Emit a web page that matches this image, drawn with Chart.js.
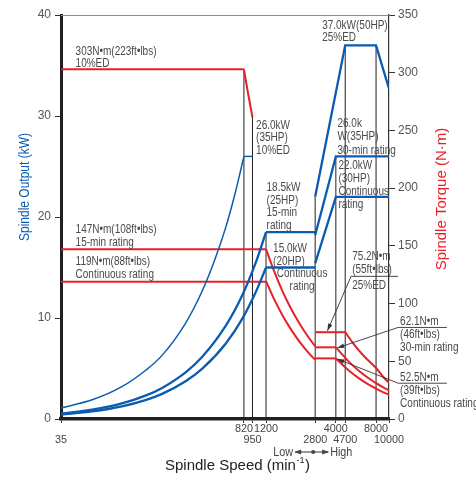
<!DOCTYPE html>
<html>
<head>
<meta charset="utf-8">
<script src="https://cdn.jsdelivr.net/npm/chart.js@4.4.1/dist/chart.umd.min.js"></script>
<style>
  html, body { margin: 0; padding: 0; background: #fff; }
  canvas { display: block; }
</style>
</head>
<body>
<canvas id="grafico" width="476" height="480"></canvas>
<script>
// ===== Dados =====
// eixo X: rotação (min-1), escala logarítmica
const xTicks = [35, 820, 950, 1200, 2800, 4000, 4700, 8000, 10000];
const xTicksUpper = [820, 1200, 4000, 8000];

// marcha baixa - potência (kW)
const speedRise10 = [35, 60, 100, 150, 200, 300, 400, 500, 600, 700, 820];
const kwRise10 = [1.1, 1.9, 3.2, 4.8, 6.3, 9.5, 12.7, 15.9, 19.0, 22.2, 26.0];
const speedRise = [35, 60, 100, 150, 200, 300, 400, 600, 800, 1000, 1200];
const kwRise15 = [0.54, 0.92, 1.54, 2.31, 3.08, 4.62, 6.16, 9.24, 12.3, 15.4, 18.5];
const kwRiseCont = [0.44, 0.75, 1.25, 1.87, 2.49, 3.74, 4.98, 7.48, 9.97, 12.5, 15.0];
const speedFlat10 = [820, 950];
const kwFlat10 = [26.0, 26.0];
const speedFlatLow = [1200, 2800];
const kwFlat15 = [18.5, 18.5];
const kwFlatCont = [15.0, 15.0];

// marcha baixa - torque (N·m)
const speedT303 = [35, 820];
const nmT303 = [303, 303];
const speedDrop10 = [820, 880, 950];
const nmDrop10 = [302.8, 282.2, 261.4];
const speedTLow = [35, 1200];
const nmT147 = [147, 147];
const nmT119 = [119, 119];
const speedFallLow = [1200, 1400, 1600, 1800, 2000, 2200, 2400, 2600, 2800];
const nmFallLow15 = [147.2, 126.2, 110.4, 98.1, 88.3, 80.3, 73.6, 67.9, 63.1];
const nmFallLowCont = [119.4, 102.3, 89.5, 79.6, 71.6, 65.1, 59.7, 55.1, 51.2];

// marcha alta - potência (kW)
const speedHigh25 = [2800, 4700, 8000, 10000];
const kwHigh25 = [22.0, 37.0, 37.0, 32.7];
const speedHigh = [2800, 4000, 10000];
const kwHigh30 = [18.2, 26.0, 26.0];
const kwHighCont = [15.4, 22.0, 22.0];

// marcha alta - torque (N·m)
const speedTFlat25 = [2800, 4700];
const nmTFlat25 = [75.2, 75.2];
const speedTFlat = [2800, 4000];
const nmTFlat30 = [62.1, 62.1];
const nmTFlatCont = [52.5, 52.5];
const speedFall25 = [4700, 5500, 6500, 8000, 9000, 10000];
const nmFallHigh25 = [75.2, 64.2, 54.4, 44.2, 36.8, 31.2];
const speedFallHigh = [4000, 5000, 6000, 7000, 8000, 9000, 10000];
const nmFallHigh30 = [62.1, 49.7, 41.4, 35.5, 31.0, 27.6, 24.8];
const nmFallHighCont = [52.5, 42.0, 35.0, 30.0, 26.3, 23.3, 21.0];

// linhas verticais de referência (altura em kW)
const vLineSpeeds = [820, 950, 1200, 2800, 4000, 4700, 8000];
const vLineTopsKw = [34.6, 29.9, 18.5, 22.0, 26.0, 37.0, 37.0];

// ===== Estilos =====
const AZUL = "#0b5cb0";
const VERMELHO = "#e62129";
const PRETO = "#231f20";
const TEXTO = "#4a4a4a";
const FONT_REG = '"Liberation Sans", Arial, Helvetica, sans-serif';
const CONDENSA = 0.8; // largura do texto "narrow"

// anotações (posição em rotação / kW)
const notas = [
  { n: 45, kw: 36.4, lines: ["303N•m(223ft•lbs)", "10%ED"], lh: 12 },
  { n: 45, kw: 18.75, lines: ["147N•m(108ft•lbs)", "15-min rating"] },
  { n: 45, kw: 15.58, lines: ["119N•m(88ft•lbs)", "Continuous rating"] },
  { n: 1011, kw: 29.07, lines: ["26.0kW", "(35HP)", "10%ED"] },
  { n: 1211, kw: 22.92, lines: ["18.5kW", "(25HP)", "15-min", "rating"] },
  { n: 1355, kw: 16.87, lines: ["15.0kW", "(20HP)"] },
  { n: 2235, kw: 14.38, lines: ["Continuous", "rating"], align: "center" },
  { n: 3157, kw: 38.99, lines: ["37.0kW(50HP)", "25%ED"] },
  { n: 4110, kw: 29.27, lines: ["26.0k", "W(35HP)", "30-min rating"], lh: 13.5 },
  { n: 4180, kw: 25.1, lines: ["22.0kW", "(30HP)", "Continuous", "rating"], lh: 13 },
  { n: 5297, kw: 16.07, lines: ["75.2N•m", "(55ft•lbs)"] },
  { n: 5297, kw: 13.2, lines: ["25%ED"] },
  { n: 12110, kw: 9.62, lines: ["62.1N•m", "(46ft•lbs)", "30-min rating"], lh: 13 },
  { n: 12110, kw: 4.07, lines: ["52.5N•m", "(39ft•lbs)", "Continuous rating"], lh: 13 }
];

// linhas de chamada (rotação / N·m): sublinhado + seta
const chamadas = [
  { under: [5200, 11706, 123.6], tip: [3460, 76.5] },
  { under: [11706, 27120, 79.3], tip: [4100, 61.6] },
  { under: [11706, 27120, 31.0], tip: [4100, 52.0] }
];

// ===== Helpers =====
function serie(xs, ys, color, width, axis, smooth) {
  return {
    data: xs.map((x, i) => ({ x, y: ys[i] })),
    borderColor: color,
    borderWidth: width,
    yAxisID: axis,
    pointRadius: 0,
    fill: false,
    tension: 0,
    cubicInterpolationMode: smooth ? "monotone" : "default",
    order: 0
  };
}

function seta(ctx, x0, y0, x1, y1, len, half) {
  const a = Math.atan2(y1 - y0, x1 - x0);
  ctx.beginPath();
  ctx.moveTo(x1, y1);
  ctx.lineTo(x1 - len * Math.cos(a) + half * Math.sin(a), y1 - len * Math.sin(a) - half * Math.cos(a));
  ctx.lineTo(x1 - len * Math.cos(a) - half * Math.sin(a), y1 - len * Math.sin(a) + half * Math.cos(a));
  ctx.closePath();
  ctx.fill();
}

// texto estreito: Liberation Sans comprimida na horizontal
function textoEstreito(ctx, t, x, y) {
  ctx.save();
  ctx.translate(x, y);
  ctx.scale(CONDENSA, 1);
  ctx.fillText(t, 0, 0);
  ctx.restore();
}

const datasets = [
  serie(speedRise10, kwRise10, AZUL, 1.5, "y", true),
  serie(speedFlat10, kwFlat10, AZUL, 1.5, "y", false),
  serie(speedRise, kwRise15, AZUL, 2.3, "y", true),
  serie(speedRise, kwRiseCont, AZUL, 2.3, "y", true),
  serie(speedFlatLow, kwFlat15, AZUL, 2.3, "y", false),
  serie(speedFlatLow, kwFlatCont, AZUL, 2.3, "y", false),
  serie(speedHigh25, kwHigh25, AZUL, 2.3, "y", false),
  serie(speedHigh, kwHigh30, AZUL, 2.3, "y", false),
  serie(speedHigh, kwHighCont, AZUL, 2.3, "y", false),
  serie(speedT303, nmT303, VERMELHO, 2, "y1", false),
  serie(speedDrop10, nmDrop10, VERMELHO, 2, "y1", false),
  serie(speedTLow, nmT147, VERMELHO, 2, "y1", false),
  serie(speedTLow, nmT119, VERMELHO, 2, "y1", false),
  serie(speedFallLow, nmFallLow15, VERMELHO, 2, "y1", true),
  serie(speedFallLow, nmFallLowCont, VERMELHO, 2, "y1", true),
  serie(speedTFlat25, nmTFlat25, VERMELHO, 2, "y1", false),
  serie(speedTFlat, nmTFlat30, VERMELHO, 2, "y1", false),
  serie(speedTFlat, nmTFlatCont, VERMELHO, 2, "y1", false),
  serie(speedFall25, nmFallHigh25, VERMELHO, 2, "y1", true),
  serie(speedFallHigh, nmFallHigh30, VERMELHO, 2, "y1", true),
  serie(speedFallHigh, nmFallHighCont, VERMELHO, 2, "y1", true)
];
vLineSpeeds.forEach((s, i) => {
  const d = serie([s, s], [0, vLineTopsKw[i]], PRETO, 1, "y", false);
  d.order = 5;
  datasets.push(d);
});

// ===== Plugin de textos e chamadas =====
const extras = {
  id: "extras",
  afterDatasetsDraw(chart) {
    const { ctx, chartArea: ca } = chart;
    const sx = chart.scales.x, sy = chart.scales.y, sy1 = chart.scales.y1;
    ctx.save();

    // borda superior
    ctx.strokeStyle = "#8c8c8c";
    ctx.lineWidth = 1;
    ctx.beginPath();
    ctx.moveTo(ca.left, ca.top + 0.5);
    ctx.lineTo(ca.right, ca.top + 0.5);
    ctx.stroke();

    // textos das curvas
    ctx.fillStyle = TEXTO;
    ctx.font = `12.5px ${FONT_REG}`;
    ctx.textBaseline = "middle";
    notas.forEach((nt) => {
      const x = sx.getPixelForValue(nt.n);
      const y = sy.getPixelForValue(nt.kw);
      ctx.textAlign = nt.align || "left";
      nt.lines.forEach((t, i) => textoEstreito(ctx, t, x, y + i * (nt.lh || 12.6)));
    });

    // chamadas
    ctx.strokeStyle = "#333";
    ctx.fillStyle = "#333";
    ctx.lineWidth = 0.9;
    chamadas.forEach((c) => {
      const x0 = sx.getPixelForValue(c.under[0]);
      const x1 = sx.getPixelForValue(c.under[1]);
      const y0 = sy1.getPixelForValue(c.under[2]);
      const tx = sx.getPixelForValue(c.tip[0]);
      const ty = sy1.getPixelForValue(c.tip[1]);
      ctx.beginPath();
      ctx.moveTo(x1, y0);
      ctx.lineTo(x0, y0);
      ctx.lineTo(tx, ty);
      ctx.stroke();
      seta(ctx, x0, y0, tx, ty, 7, 2.3);
    });
    ctx.restore();
  },
  afterDraw(chart) {
    const { ctx, chartArea: ca } = chart;
    const sx = chart.scales.x;
    ctx.save();
    ctx.textBaseline = "middle";

    // Low <-> High
    const cx = sx.getPixelForValue(2800) - 2;
    const yy = ca.bottom + 33;
    ctx.fillStyle = "#444";
    ctx.strokeStyle = "#333";
    ctx.font = `13.5px ${FONT_REG}`;
    ctx.textAlign = "right";
    textoEstreito(ctx, "Low", cx - 20, yy);
    ctx.textAlign = "left";
    textoEstreito(ctx, "High", cx + 17, yy);
    ctx.lineWidth = 1.2;
    ctx.beginPath();
    ctx.moveTo(cx - 18, yy);
    ctx.lineTo(cx + 15, yy);
    ctx.stroke();
    seta(ctx, cx - 8, yy, cx - 19, yy, 7, 2.6);
    seta(ctx, cx + 6, yy, cx + 16, yy, 7, 2.6);
    ctx.beginPath();
    ctx.arc(cx, yy, 2, 0, Math.PI * 2);
    ctx.fill();

    // título eixo X
    ctx.fillStyle = "#222";
    ctx.font = `15px ${FONT_REG}`;
    ctx.textAlign = "left";
    let x = 165;
    const y = ca.bottom + 47;
    const t1 = "Spindle Speed (min";
    ctx.fillText(t1, x, y);
    x += ctx.measureText(t1).width;
    ctx.font = `9px ${FONT_REG}`;
    ctx.fillText("-1", x + 0.5, y - 5);
    x += ctx.measureText("-1").width + 1;
    ctx.font = `15px ${FONT_REG}`;
    ctx.fillText(")", x, y);

    // títulos dos eixos Y
    ctx.textAlign = "center";
    ctx.save();
    ctx.translate(25, 187);
    ctx.rotate(-Math.PI / 2);
    ctx.fillStyle = AZUL;
    ctx.font = `15px ${FONT_REG}`;
    textoEstreito(ctx, "Spindle Output (kW)", 0, 0);
    ctx.restore();
    ctx.save();
    ctx.translate(442, 199);
    ctx.rotate(-Math.PI / 2);
    ctx.fillStyle = VERMELHO;
    ctx.font = `15px ${FONT_REG}`;
    ctx.fillText("Spindle Torque (N·m)", 0, 0);
    ctx.restore();

    ctx.restore();
  }
};

// ===== Gráfico =====
const ctx = document.getElementById("grafico").getContext("2d");
new Chart(ctx, {
  type: "line",
  data: { datasets },
  plugins: [extras],
  options: {
    responsive: false,
    animation: false,
    events: [],
    layout: { padding: { top: 15, left: 0, right: 0, bottom: 0 } },
    plugins: { legend: { display: false }, tooltip: { enabled: false } },
    scales: {
      x: {
        type: "logarithmic",
        min: 35,
        max: 10000,
        afterBuildTicks: (s) => { s.ticks = xTicks.map((v) => ({ value: v })); },
        afterFit: (s) => { s.height = 61; },
        border: { color: PRETO, width: 3.5 },
        grid: { drawOnChartArea: false, drawTicks: true, tickLength: 4, color: "#333" },
        ticks: {
          autoSkip: false,
          maxRotation: 0,
          padding: 1,
          color: "#444",
          font: { family: FONT_REG, size: 10.8, lineHeight: 1 },
          callback: (v) => (xTicksUpper.includes(v) ? [String(v), ""] : ["", String(v)])
        }
      },
      y: {
        position: "left",
        min: 0,
        max: 40,
        afterFit: (s) => { s.width = 61; },
        border: { color: PRETO, width: 3 },
        grid: { drawOnChartArea: false, drawTicks: true, tickLength: 6, color: "#333" },
        ticks: { stepSize: 10, padding: 4, color: "#555", font: { family: FONT_REG, size: 12 } }
      },
      y1: {
        position: "right",
        min: 0,
        max: 350,
        afterFit: (s) => { s.width = 87; },
        border: { color: "#333", width: 1.2 },
        grid: { drawOnChartArea: false, drawTicks: true, tickLength: 6, color: "#333" },
        ticks: { stepSize: 50, padding: 3, color: "#555", font: { family: FONT_REG, size: 12 } }
      }
    }
  }
});
</script>
</body>
</html>
